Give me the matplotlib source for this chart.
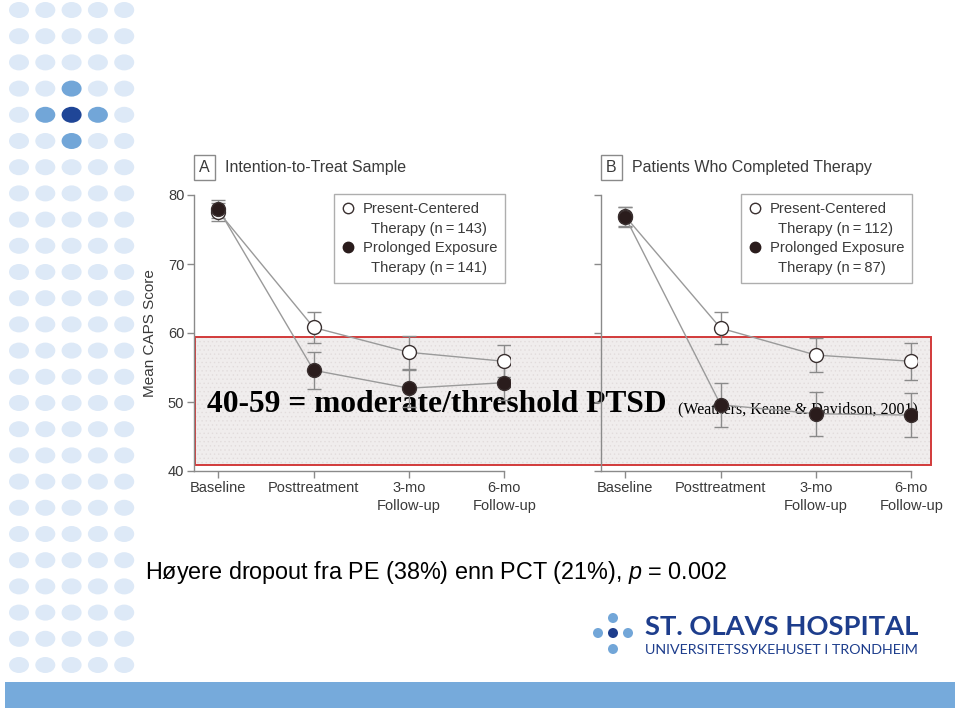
"""
plot.py  -  PCT vs PE CAPS scores slide (St. Olavs Hospital).

Two panels of mean CAPS score over time with error bars, a red
'moderate/threshold' band, slide text and the hospital branding.
"""

import matplotlib
matplotlib.use("Agg")
import matplotlib.pyplot as plt
from matplotlib.lines import Line2D
from matplotlib.patches import Rectangle, Ellipse

# ---------------------------------------------------------------------------
# Data
# ---------------------------------------------------------------------------
STAGES = ["Baseline", "Posttreatment", "3-mo\nFollow-up", "6-mo\nFollow-up"]
Y_TICKS = [40, 50, 60, 70, 80]

ITT_PCT = [77.6, 60.8, 57.2, 55.9]
ITT_PCT_ERR = [1.3, 2.2, 2.4, 2.3]
ITT_PE = [78.0, 54.6, 52.0, 52.8]
ITT_PE_ERR = [1.3, 2.7, 2.7, 2.5]

COMP_PCT = [76.9, 60.7, 56.8, 55.9]
COMP_PCT_ERR = [1.4, 2.3, 2.5, 2.7]
COMP_PE = [76.8, 49.6, 48.3, 48.1]
COMP_PE_ERR = [1.4, 3.2, 3.2, 3.2]

PANELS = [
    ("A", "Intention-to-Treat Sample", ITT_PCT, ITT_PCT_ERR, ITT_PE, ITT_PE_ERR,
     ["Present-Centered", "Therapy (n\u2009=\u2009143)",
      "Prolonged Exposure", "Therapy (n\u2009=\u2009141)"]),
    ("B", "Patients Who Completed Therapy", COMP_PCT, COMP_PCT_ERR, COMP_PE, COMP_PE_ERR,
     ["Present-Centered", "Therapy (n\u2009=\u2009112)",
      "Prolonged Exposure", "Therapy (n\u2009=\u200987)"]),
]

# ---------------------------------------------------------------------------
# Style
# ---------------------------------------------------------------------------
W, H = 960, 711
SANS = ["Liberation Sans", "DejaVu Sans"]
SERIF = ["Liberation Serif", "DejaVu Serif"]
TXT = "#3a3a3a"
AXC = "#8a8a8a"
LIGHT_DOT = "#dde9f7"
MID_DOT = "#72a6d8"
DARK_DOT = "#1f4697"
NAVY = "#1d3d8c"

plt.rcParams["font.family"] = SANS
plt.rcParams["mathtext.fontset"] = "custom"
plt.rcParams["mathtext.it"] = "Liberation Sans:italic"
plt.rcParams["mathtext.rm"] = "Liberation Sans"
plt.rcParams["hatch.linewidth"] = 0.5

fig = plt.figure(figsize=(W / 100, H / 100), dpi=100)

# background layer in pixel coordinates
bg = fig.add_axes([0, 0, 1, 1], zorder=-1)
bg.set_xlim(0, W)
bg.set_ylim(H, 0)
bg.axis("off")

# left dot grid
for row in range(26):
    for col in range(5):
        color = LIGHT_DOT
        if (row, col) == (4, 2):
            color = DARK_DOT
        elif (row, col) in [(3, 2), (4, 1), (4, 3), (5, 2)]:
            color = MID_DOT
        bg.add_patch(Ellipse((19 + col * 26.3, 10 + row * 26.2), 20, 16,
                             facecolor=color, edgecolor="none"))

# bottom bar
bg.add_patch(Rectangle((5, 682), 950, 26, facecolor="#76aadb", edgecolor="none"))

# red threshold band
bg.add_patch(Rectangle((195, 337), 736, 128, facecolor="#f0eded",
                       edgecolor="#e2dcdc", linewidth=0, hatch="...."))
bg.add_patch(Rectangle((195, 337), 736, 128, facecolor="none",
                       edgecolor="#d23a3a", linewidth=1.4))

bg.text(207, 404, "40-59 = moderate/threshold PTSD", family=SERIF,
        fontweight="bold", fontsize=22.7, color="black", va="center", ha="left")
bg.text(678, 409, "(Weathers, Keane & Davidson, 2001)", family=SERIF,
        fontsize=11.5, color="black", va="center", ha="left")

bg.text(145, 572, "H\u00f8yere dropout fra PE (38%) enn PCT (21%), $p$ = 0.002",
        fontsize=16.8, color="black", va="center", ha="left")

# logo
for (cx, cy), c in [((598, 633), MID_DOT), ((628, 633), MID_DOT),
                    ((613, 618), MID_DOT), ((613, 649), MID_DOT),
                    ((613, 633), NAVY)]:
    bg.add_patch(Ellipse((cx, cy), 10, 10, facecolor=c, edgecolor="none"))
bg.text(645, 627, "ST. OLAVS HOSPITAL", family=["Lato", "DejaVu Sans"],
        fontweight="bold", fontsize=19.7, color=NAVY, va="center", ha="left")
bg.text(645, 650, "UNIVERSITETSSYKEHUSET I TRONDHEIM", family=["Lato", "DejaVu Sans"],
        fontsize=10.3, color=NAVY, va="center", ha="left")

# ---------------------------------------------------------------------------
# Chart panels
# ---------------------------------------------------------------------------
ax_left = [194, 601]
ax_w, ax_top, ax_bot = 316, 195, 471
xpos = list(range(len(STAGES)))

for i, (letter, title, pct, pct_err, pe, pe_err, labels) in enumerate(PANELS):
    ax = fig.add_axes([ax_left[i] / W, 1 - ax_bot / H, ax_w / W, (ax_bot - ax_top) / H])
    ax.set_facecolor("none")
    ax.set_xlim(-0.255, 3.06)
    ax.set_ylim(40, 80)

    for vals, errs, face in [(pct, pct_err, "white"), (pe, pe_err, "#2a1c1c")]:
        ax.errorbar(xpos, vals, yerr=errs, fmt="none", ecolor=AXC, elinewidth=1,
                    capsize=5, capthick=1, zorder=2)
        ax.plot(xpos, vals, color="#9a9a9a", linewidth=1, zorder=3)
        ax.plot(xpos, vals, linestyle="none", marker="o", markersize=10,
                markerfacecolor=face, markeredgecolor="#3a3030",
                markeredgewidth=1, zorder=4)

    for side in ["top", "right"]:
        ax.spines[side].set_visible(False)
    for side in ["left", "bottom"]:
        ax.spines[side].set_color(AXC)
        ax.spines[side].set_linewidth(1)
    ax.spines["bottom"].set_bounds(-0.255, 3)

    ax.set_xticks(xpos)
    ax.set_xticklabels(STAGES, fontsize=10, color=TXT, linespacing=1.35)
    ax.set_yticks(Y_TICKS)
    ax.tick_params(colors=AXC, length=5, width=1, labelcolor=TXT, labelsize=10.5, pad=2)
    if i == 0:
        ax.set_ylabel("Mean CAPS Score", fontsize=11, color=TXT, labelpad=8)
    else:
        ax.set_yticklabels([])

    ax.text(0.033, 1.1, letter, transform=ax.transAxes, fontsize=11.5, color=TXT,
            ha="center", va="center",
            bbox=dict(boxstyle="square,pad=0.3", facecolor="white", edgecolor=AXC))
    ax.text(0.098, 1.1, title, transform=ax.transAxes, fontsize=11.5, color=TXT,
            ha="left", va="center")

    handles = [
        Line2D([], [], linestyle="none", marker="o", markersize=7.5,
               markerfacecolor="white", markeredgecolor="#3a3030"),
        Line2D([], [], linestyle="none"),
        Line2D([], [], linestyle="none", marker="o", markersize=7.5,
               markerfacecolor="#2a1c1c", markeredgecolor="#2a1c1c"),
        Line2D([], [], linestyle="none"),
    ]
    leg_labels = [labels[0], "  " + labels[1], labels[2], "  " + labels[3]]
    leg = ax.legend(handles, leg_labels, loc="upper right",
                    bbox_to_anchor=(0.985, 1.004), borderaxespad=0,
                    fontsize=10.6, frameon=True, fancybox=False,
                    edgecolor="#9a9a9a", handlelength=0.8, handletextpad=0.6,
                    labelspacing=0.38, borderpad=0.55, labelcolor=TXT)
    leg.get_frame().set_linewidth(1)

fig.savefig("out.png", dpi=100)
